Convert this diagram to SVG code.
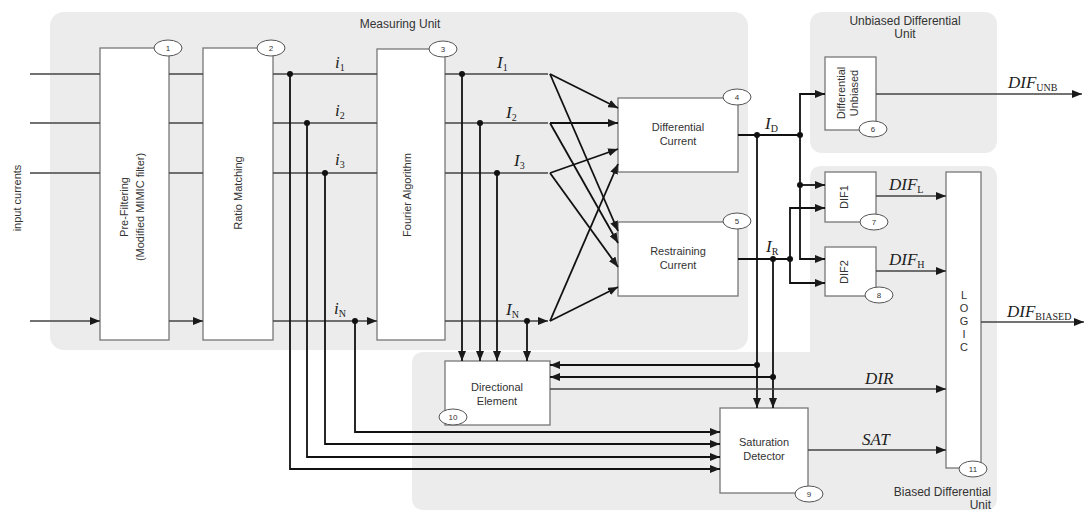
<svg xmlns="http://www.w3.org/2000/svg" width="1084" height="513" viewBox="0 0 1084 513">
<defs>
<marker id="ar" markerWidth="10" markerHeight="8" refX="10" refY="4" orient="auto" markerUnits="userSpaceOnUse">
<path d="M0,0 L10,4 L0,8 Z" fill="#1a1a1a"/>
</marker>
</defs>
<style>
.bg{fill:#ececec;stroke:none}
.blk{fill:#ffffff;stroke:#777;stroke-width:1.3}
.tag{fill:#ffffff;stroke:#555;stroke-width:1}
.num{font-family:"Liberation Sans",Arial,sans-serif;font-size:8px;fill:#333;text-anchor:middle}
.lbl{font-family:"Liberation Sans",Arial,sans-serif;font-size:11px;fill:#333;text-anchor:middle}
.unit{font-family:"Liberation Sans",Arial,sans-serif;font-size:12px;fill:#333;text-anchor:middle}
.var{font-family:"Liberation Serif","Times New Roman",serif;font-style:italic;font-size:17px;fill:#222}
.sub{font-size:10px;font-style:normal}
.w{fill:none;stroke:#444;stroke-width:1.4}
.t{fill:none;stroke:#111;stroke-width:1.8}
.a{marker-end:url(#ar)}
.dot{fill:#111}
</style>
<rect width="1084" height="513" fill="#ffffff"/>
<g id="units">
<rect class="bg" x="50" y="12" width="698" height="338" rx="14"/>
<rect class="bg" x="810" y="12" width="187" height="141" rx="12"/>
<path class="bg" d="M822,166 H985 Q997,166 997,178 V498 Q997,510 985,510 H424 Q412,510 412,498 V364 Q412,352 424,352 H810 V178 Q810,166 822,166 Z"/>
<text class="unit" x="400" y="28">Measuring Unit</text>
<text class="unit" x="905" y="25" font-size="10.5">Unbiased Differential</text>
<text class="unit" x="905" y="38" font-size="10.5">Unit</text>
<text class="unit" x="991" y="496" style="text-anchor:end">Biased Differential</text>
<text class="unit" x="991" y="509" style="text-anchor:end">Unit</text>
</g>
<text class="lbl" transform="translate(21,198) rotate(-90)" font-size="10.5">input currents</text>
<g id="n1">
<rect class="blk" x="100" y="48" width="69" height="292"/>
<text class="lbl" transform="translate(128,207) rotate(-90)" font-size="10">Pre-Filtering</text>
<text class="lbl" transform="translate(144,207) rotate(-90)" font-size="10">(Modified MIMIC filter)</text>
<ellipse class="tag" cx="168" cy="48" rx="14" ry="8"/><text class="num" x="168" y="51">1</text>
</g>
<g id="n2">
<rect class="blk" x="203" y="48" width="70" height="292"/>
<text class="lbl" transform="translate(242,193) rotate(-90)" font-size="10">Ratio Matching</text>
<ellipse class="tag" cx="271" cy="48" rx="14" ry="8"/><text class="num" x="271" y="51">2</text>
</g>
<g id="n3">
<rect class="blk" x="377" y="49" width="68" height="291"/>
<text class="lbl" transform="translate(411,195) rotate(-90)" font-size="10">Fourier Algorithm</text>
<ellipse class="tag" cx="443" cy="49" rx="14" ry="8"/><text class="num" x="443" y="52">3</text>
</g>
<g id="n4">
<rect class="blk" x="618" y="98" width="120" height="74"/>
<text class="lbl" x="678" y="131">Differential</text>
<text class="lbl" x="678" y="145">Current</text>
<ellipse class="tag" cx="737" cy="97" rx="14" ry="8"/><text class="num" x="737" y="100">4</text>
</g>
<g id="n5">
<rect class="blk" x="618" y="222" width="120" height="74"/>
<text class="lbl" x="678" y="255">Restraining</text>
<text class="lbl" x="678" y="269">Current</text>
<ellipse class="tag" cx="737" cy="221" rx="14" ry="8"/><text class="num" x="737" y="224">5</text>
</g>
<g id="n6">
<rect class="blk" x="825" y="57" width="51" height="73"/>
<text class="lbl" transform="translate(845,93) rotate(-90)" font-size="9">Differential</text>
<text class="lbl" transform="translate(858,93) rotate(-90)" font-size="9">Unbiased</text>
<ellipse class="tag" cx="873" cy="129" rx="14" ry="8"/><text class="num" x="873" y="132">6</text>
</g>
<g id="n7">
<rect class="blk" x="825" y="172" width="51" height="50"/>
<text class="lbl" transform="translate(848,197) rotate(-90)" font-size="9">DIF1</text>
<ellipse class="tag" cx="874" cy="222" rx="14" ry="8"/><text class="num" x="874" y="225">7</text>
</g>
<g id="n8">
<rect class="blk" x="825" y="247" width="51" height="49"/>
<text class="lbl" transform="translate(848,272) rotate(-90)" font-size="9">DIF2</text>
<ellipse class="tag" cx="879" cy="295" rx="14" ry="8"/><text class="num" x="879" y="298">8</text>
</g>
<g id="n9">
<rect class="blk" x="720" y="408" width="88" height="85"/>
<text class="lbl" x="764" y="446">Saturation</text>
<text class="lbl" x="764" y="460">Detector</text>
<ellipse class="tag" cx="809" cy="494" rx="14" ry="8"/><text class="num" x="809" y="497">9</text>
</g>
<g id="n10">
<rect class="blk" x="445" y="361" width="105" height="64"/>
<text class="lbl" x="497" y="391">Directional</text>
<text class="lbl" x="497" y="405">Element</text>
<ellipse class="tag" cx="453" cy="417" rx="14" ry="8"/><text class="num" x="453" y="420">10</text>
</g>
<g id="n11">
<rect class="blk" x="946" y="172" width="35" height="296"/>
<text class="lbl" x="964" y="299">L</text>
<text class="lbl" x="964" y="312">O</text>
<text class="lbl" x="964" y="325">G</text>
<text class="lbl" x="964" y="338">I</text>
<text class="lbl" x="964" y="351">C</text>
<ellipse class="tag" cx="973" cy="469" rx="14" ry="8"/><text class="num" x="973" y="472">11</text>
</g>
<g id="connectors">
<path class="w a" d="M30,74 H100 M30,123 H100 M30,173 H100 M30,321 H100"/>
<path class="w a" d="M169,74 H203 M169,123 H203 M169,173 H203 M169,321 H203"/>
<path class="w a" d="M273,74 H377 M273,123 H377 M273,173 H377 M273,321 H377"/>
<path class="w a" d="M445,74 H548 M445,123 H548 M445,173 H548 M445,321 H548"/>
<path class="t a" d="M290,74 V469 H720"/>
<path class="t a" d="M307,123 V457 H720"/>
<path class="t a" d="M325,173 V444 H720"/>
<path class="t a" d="M355,321 V432 H720"/>
<path class="t a" d="M462,74 V361"/>
<path class="t a" d="M480,123 V361"/>
<path class="t a" d="M497,173 V361"/>
<path class="t a" d="M527,321 V361"/>
<path class="t a" d="M550,74 L618,108"/>
<path class="t a" d="M550,74 L618,231"/>
<path class="t a" d="M550,123 L618,123"/>
<path class="t a" d="M550,123 L618,243"/>
<path class="t a" d="M550,173 L618,149"/>
<path class="t a" d="M550,173 L618,267"/>
<path class="t a" d="M550,321 L618,164"/>
<path class="t a" d="M550,321 L618,287"/>
<path class="t" d="M738,135 H800"/>
<path class="t a" d="M800,135 V94 H825"/>
<path class="t a" d="M800,135 V259 H825"/>
<path class="t a" d="M800,185 H825"/>
<path class="t" d="M738,259 H790"/>
<path class="t a" d="M790,259 V208 H825"/>
<path class="t a" d="M790,259 V283 H825"/>
<path class="t a" d="M757,135 V408"/>
<path class="t a" d="M757,365 H550"/>
<path class="t a" d="M773,259 V408"/>
<path class="t a" d="M773,377 H550"/>
<path class="w a" d="M876,94 H1082"/>
<path class="w a" d="M876,196 H946"/>
<path class="w a" d="M876,271 H946"/>
<path class="w a" d="M550,389 H946"/>
<path class="w a" d="M808,450 H946"/>
<path class="w a" d="M981,322 H1084"/>
<circle class="dot" cx="290" cy="74" r="3"/>
<circle class="dot" cx="307" cy="123" r="3"/>
<circle class="dot" cx="325" cy="173" r="3"/>
<circle class="dot" cx="355" cy="321" r="3"/>
<circle class="dot" cx="462" cy="74" r="3"/>
<circle class="dot" cx="480" cy="123" r="3"/>
<circle class="dot" cx="497" cy="173" r="3"/>
<circle class="dot" cx="527" cy="321" r="3"/>
<circle class="dot" cx="757" cy="135" r="3"/>
<circle class="dot" cx="800" cy="135" r="3"/>
<circle class="dot" cx="800" cy="185" r="3"/>
<circle class="dot" cx="773" cy="259" r="3"/>
<circle class="dot" cx="790" cy="259" r="3"/>
<circle class="dot" cx="757" cy="365" r="3"/>
<circle class="dot" cx="773" cy="377" r="3"/>
</g>
<g id="labels">
<text class="var" x="335" y="68">i<tspan class="sub" dy="3">1</tspan></text>
<text class="var" x="335" y="116">i<tspan class="sub" dy="3">2</tspan></text>
<text class="var" x="335" y="165">i<tspan class="sub" dy="3">3</tspan></text>
<text class="var" x="334" y="314">i<tspan class="sub" dy="3">N</tspan></text>
<text class="var" x="497" y="68">I<tspan class="sub" dy="3">1</tspan></text>
<text class="var" x="506" y="118">I<tspan class="sub" dy="3">2</tspan></text>
<text class="var" x="514" y="166">I<tspan class="sub" dy="3">3</tspan></text>
<text class="var" x="506" y="315">I<tspan class="sub" dy="3">N</tspan></text>
<text class="var" x="765" y="129">I<tspan class="sub" dy="3">D</tspan></text>
<text class="var" x="766" y="252">I<tspan class="sub" dy="3">R</tspan></text>
<text class="var" x="1008" y="88">DIF<tspan class="sub" dy="3">UNB</tspan></text>
<text class="var" x="889" y="190">DIF<tspan class="sub" dy="3">L</tspan></text>
<text class="var" x="889" y="265">DIF<tspan class="sub" dy="3">H</tspan></text>
<text class="var" x="1007" y="317">DIF<tspan class="sub" dy="3">BIASED</tspan></text>
<text class="var" x="865" y="384" font-size="15">DIR</text>
<text class="var" x="862" y="445" font-size="15">SAT</text>
</g>
</svg>
